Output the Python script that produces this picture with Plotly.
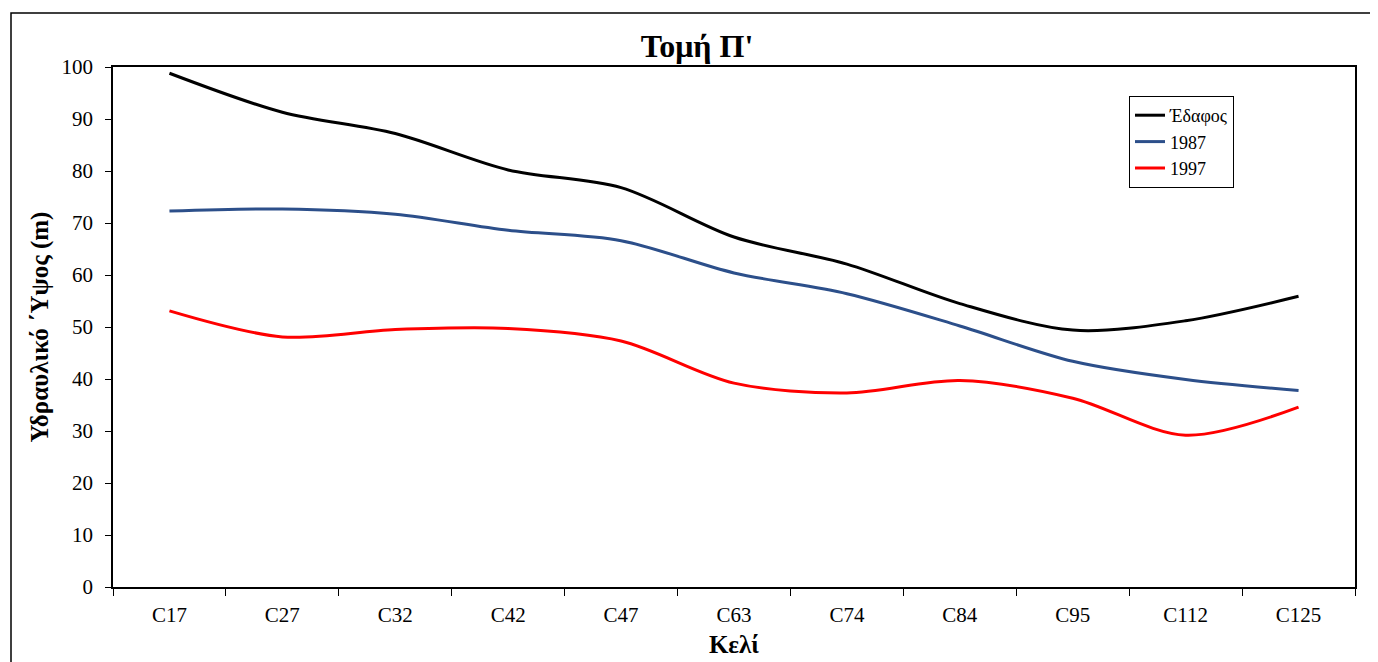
import plotly.graph_objects as go

categories = ["C17", "C27", "C32", "C42", "C47", "C63", "C74", "C84", "C95", "C112", "C125"]
edafos = [98.8, 91.3, 87.2, 80.2, 76.8, 67.3, 62.1, 54.5, 49.4, 51.2, 55.9]
y1987 = [72.3, 72.7, 71.7, 68.6, 66.6, 60.4, 56.4, 50.2, 43.4, 39.9, 37.8]
y1997 = [53.1, 48.1, 49.5, 49.7, 47.3, 39.2, 37.3, 39.7, 36.3, 29.2, 34.6]
series_names = ["Έδαφος", "1987", "1997"]
colors = ["#000000", "#2C4F8A", "#FF0000"]
y_ticks = list(range(0, 101, 10))

# page offset caused by default body margin of the html page
OFF = 8
W, H = 1378 - OFF, 662 - OFF
# plot area in page pixels
L, R, T, B = 113, 1355, 67, 587

font_family = "Liberation Serif, Times New Roman, serif"

fig = go.Figure()
for name, vals, col in zip(series_names, [edafos, y1987, y1997], colors):
    fig.add_trace(go.Scatter(
        x=categories, y=vals, name=name, mode="lines",
        line=dict(color=col, width=3, shape="spline", smoothing=0.9),
    ))

def px2x(px):
    return (px - L) / (R - L)

def py2y(py):
    return (B - py) / (B - T)

fig.update_layout(
    width=W, height=H,
    margin=dict(l=L - OFF, r=W - (R - OFF), t=T - OFF, b=H - (B - OFF), pad=0),
    paper_bgcolor="white", plot_bgcolor="white",
    font=dict(family=font_family, color="black", size=20),
    title=dict(text="<b>Τομή Π'</b>", x=(697 - OFF) / W, xanchor="center",
               y=1 - (46 - OFF) / H, yanchor="middle", xref="container", yref="container",
               font=dict(size=32, family=font_family)),
    xaxis=dict(
        type="category", showgrid=False, showline=True, linecolor="black", linewidth=1.5,
        mirror=True, ticks="outside", tickson="boundaries", ticklen=7, tickcolor="black",
        tickfont=dict(size=21), range=[-0.5, len(categories) - 0.5],
        ticklabelstandoff=8, automargin=False,
        title=dict(text="<b>Κελί</b>", font=dict(size=25), standoff=10),
    ),
    yaxis=dict(
        range=[0, 100], tickvals=y_ticks, showgrid=False, showline=True, linecolor="black",
        linewidth=1.5, mirror=True, ticks="outside", ticklen=6, tickcolor="black",
        tickfont=dict(size=21), zeroline=False, ticklabelstandoff=8, automargin=False,
        title=dict(text="<b>Υδραυλικό ΄Υψος (m)</b>", font=dict(size=25), standoff=6),
    ),
    legend=dict(
        x=px2x(1129), y=py2y(96), xanchor="left", yanchor="top",
        bordercolor="black", borderwidth=1, bgcolor="white",
        font=dict(size=18, family=font_family), itemwidth=30, tracegroupgap=2,
    ),
    shapes=[dict(
        type="rect", xref="paper", yref="paper",
        x0=px2x(11), x1=px2x(1390), y0=py2y(680), y1=py2y(13),
        line=dict(color="black", width=1.5), fillcolor="rgba(0,0,0,0)", layer="below",
    )],
)

fig.write_html("out.html")
